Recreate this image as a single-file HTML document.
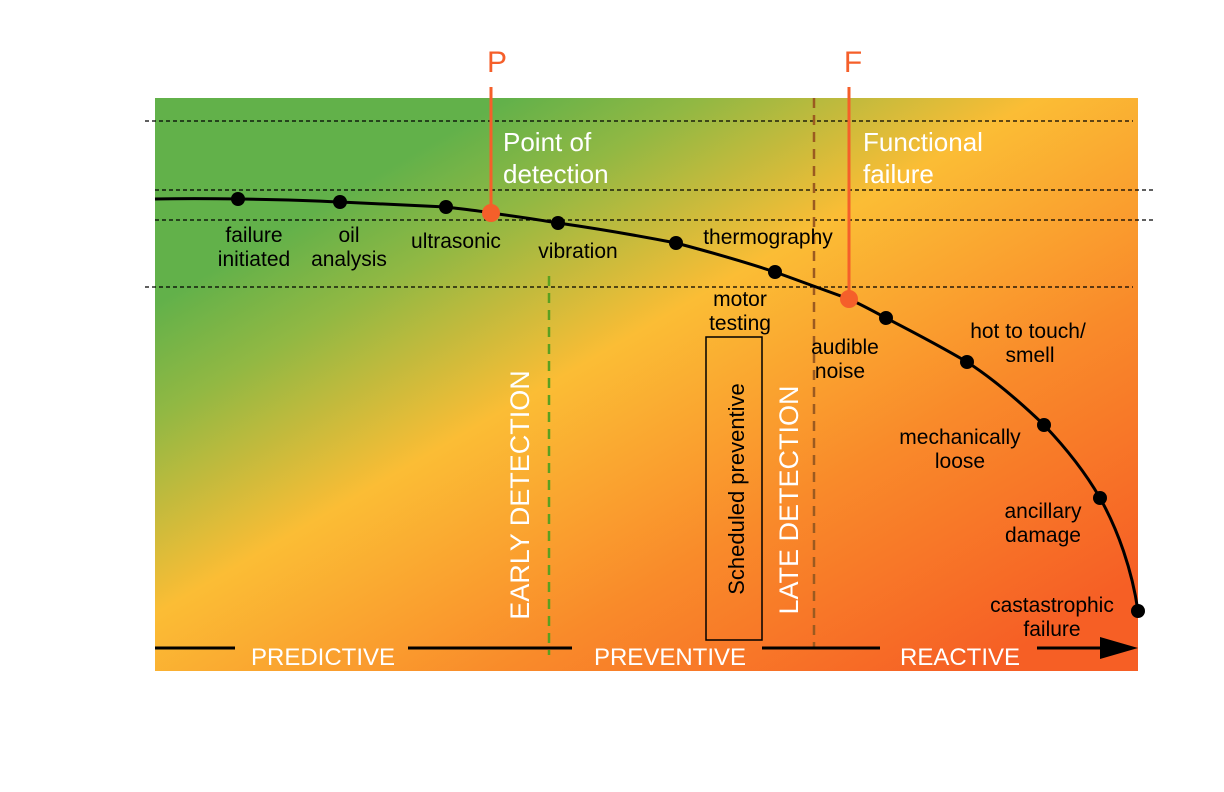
<!DOCTYPE html>
<html><head><meta charset="utf-8"><style>body{margin:0;background:#fff}svg{display:block}text{font-family:"Liberation Sans",sans-serif}</style></head><body>
<svg width="1224" height="792" viewBox="0 0 1224 792">
<defs><linearGradient id="g" gradientUnits="userSpaceOnUse" x1="155" y1="98" x2="654" y2="953">
<stop offset="0.18" stop-color="#62b14a"/><stop offset="0.28" stop-color="#92b843"/><stop offset="0.45" stop-color="#fbbd35"/><stop offset="0.68" stop-color="#f98a2a"/><stop offset="0.92" stop-color="#f65f25"/></linearGradient></defs>
<rect x="155" y="98" width="983" height="573" fill="url(#g)"/>
<g stroke="#000" stroke-width="1.3" stroke-dasharray="4,3">
<line x1="145" y1="121" x2="1133" y2="121"/><line x1="155" y1="190" x2="1155" y2="190"/><line x1="155" y1="220" x2="1155" y2="220"/><line x1="145" y1="287" x2="1133" y2="287"/></g>
<line x1="549" y1="276" x2="549" y2="655" stroke="#5aa020" stroke-width="2.5" stroke-dasharray="10,7"/>
<line x1="814" y1="98" x2="814" y2="648" stroke="#9b5a20" stroke-width="2.5" stroke-dasharray="10,7"/>
<path d="M155,199 C200,198 280,199 340,202 C380,204 420,206 446,207 C470,210 480,211 491,213 C520,217 540,220 558,223 C600,229 640,236 676,243 C710,252 745,262 775,272 C800,281 825,290 849,299 C862,305 875,312 886,318 C915,333 940,346 967,362 C995,380 1020,402 1044,425 C1065,447 1085,472 1100,498 C1118,530 1132,570 1138,611" fill="none" stroke="#000" stroke-width="3"/>
<g fill="#000"><circle cx="238" cy="199" r="7"/><circle cx="340" cy="202" r="7"/><circle cx="446" cy="207" r="7"/><circle cx="558" cy="223" r="7"/><circle cx="676" cy="243" r="7"/><circle cx="775" cy="272" r="7"/><circle cx="886" cy="318" r="7"/><circle cx="967" cy="362" r="7"/><circle cx="1044" cy="425" r="7"/><circle cx="1100" cy="498" r="7"/><circle cx="1138" cy="611" r="7"/></g>
<line x1="491" y1="87" x2="491" y2="213" stroke="#f55f2a" stroke-width="3"/><line x1="849" y1="87" x2="849" y2="299" stroke="#f55f2a" stroke-width="3"/>
<circle cx="491" cy="213" r="9" fill="#f55f2a"/><circle cx="849" cy="299" r="9" fill="#f55f2a"/>
<text x="497" y="72" font-size="30" fill="#f55f2a" text-anchor="middle">P</text><text x="853" y="72" font-size="30" fill="#f55f2a" text-anchor="middle">F</text>
<g fill="#fff" font-size="26"><text x="503" y="151">Point of</text><text x="503" y="183">detection</text><text x="863" y="151">Functional</text><text x="863" y="183">failure</text></g>
<g font-size="21" fill="#000" text-anchor="middle">
<text x="254" y="242">failure</text><text x="254" y="266">initiated</text><text x="349" y="242">oil</text><text x="349" y="266">analysis</text>
<text x="456" y="248">ultrasonic</text><text x="578" y="258">vibration</text><text x="768" y="244">thermography</text>
<text x="740" y="306">motor</text><text x="740" y="330">testing</text><text x="845" y="354">audible</text><text x="840" y="378">noise</text>
<text x="1028" y="338">hot to touch/</text><text x="1030" y="362">smell</text><text x="960" y="444">mechanically</text><text x="960" y="468">loose</text>
<text x="1043" y="518">ancillary</text><text x="1043" y="542">damage</text><text x="1052" y="612">castastrophic</text><text x="1052" y="636">failure</text></g>
<rect x="706" y="337" width="56" height="303" fill="none" stroke="#000" stroke-width="1.5"/>
<text transform="translate(744,489) rotate(-90)" font-size="22" text-anchor="middle" fill="#000">Scheduled preventive</text>
<text transform="translate(798,500) rotate(-90)" font-size="27" text-anchor="middle" fill="#fff">LATE DETECTION</text>
<text transform="translate(529,495) rotate(-90)" font-size="27" text-anchor="middle" fill="#fff">EARLY DETECTION</text>
<g stroke="#000" stroke-width="3"><line x1="155" y1="648" x2="235" y2="648"/><line x1="408" y1="648" x2="572" y2="648"/><line x1="762" y1="648" x2="880" y2="648"/><line x1="1037" y1="648" x2="1105" y2="648"/></g>
<polygon points="1100,637 1138,648 1100,659" fill="#000"/>
<g fill="#fff" font-size="24" text-anchor="middle"><text x="323" y="665">PREDICTIVE</text><text x="670" y="665">PREVENTIVE</text><text x="960" y="665">REACTIVE</text></g>
</svg></body></html>
